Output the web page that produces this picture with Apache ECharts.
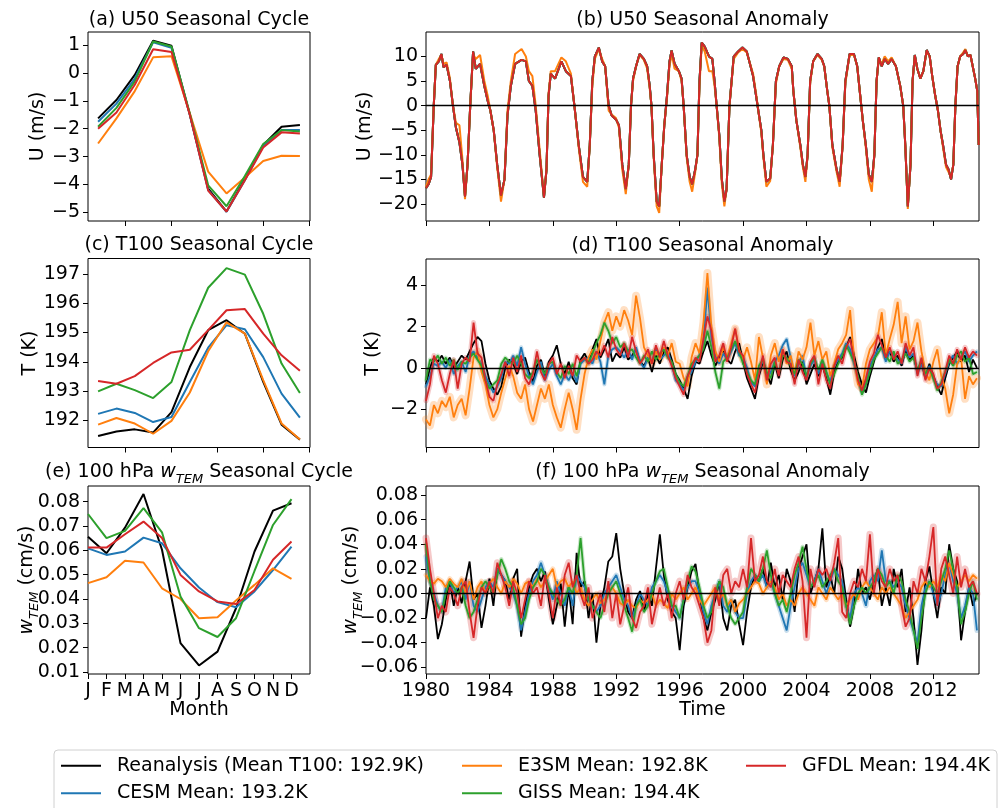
<!DOCTYPE html>
<html>
<head>
<meta charset="utf-8">
<script src="https://cdn.jsdelivr.net/npm/echarts@6/dist/echarts.min.js"></script>
<style>
html, body { margin: 0; padding: 0; background: #fff; }
#chart { width: 1003px; height: 808px; }
</style>
</head>
<body>
<div id="chart"></div>
<script>
// ---- data ----
const months = ['J', 'F', 'M', 'A', 'M', 'J', 'J', 'A', 'S', 'O', 'N', 'D'];
const monthNum = [1, 2, 3, 4, 5, 6, 7, 8, 9, 10, 11, 12];

// (a) U50 seasonal cycle, m/s
const u50CycRean = [-1.63, -0.97, -0.07, 1.16, 0.98, -1.5, -4.15, -4.97, -3.8, -2.58, -1.93, -1.87];
const u50CycCesm = [-1.75, -1.1, -0.2, 1.1, 0.9, -1.5, -4.2, -4.98, -3.85, -2.62, -2.05, -2.05];
const u50CycE3sm = [-2.53, -1.63, -0.65, 0.56, 0.6, -1.45, -3.54, -4.32, -3.75, -3.16, -2.97, -2.98];
const u50CycGiss = [-1.93, -1.25, -0.3, 1.13, 0.95, -1.45, -4.03, -4.78, -3.7, -2.55, -2.05, -2.1];
const u50CycGfdl = [-2.0, -1.42, -0.42, 0.85, 0.75, -1.5, -4.22, -4.97, -3.85, -2.67, -2.13, -2.17];

// (c) T100 seasonal cycle, K
const t100CycRean = [191.46, 191.62, 191.69, 191.58, 192.28, 193.82, 195.08, 195.42, 194.96, 193.31, 191.85, 191.34];
const t100CycCesm = [192.22, 192.4, 192.25, 191.94, 192.11, 193.31, 194.48, 195.25, 195.11, 194.16, 192.91, 192.09];
const t100CycE3sm = [191.85, 192.08, 191.89, 191.54, 191.98, 192.95, 194.36, 195.35, 194.96, 193.37, 191.89, 191.34];
const t100CycGiss = [192.99, 193.25, 193.03, 192.76, 193.31, 195.08, 196.53, 197.2, 196.98, 195.64, 193.94, 192.93];
const t100CycGfdl = [193.34, 193.25, 193.51, 193.96, 194.32, 194.41, 195.08, 195.76, 195.8, 194.96, 194.22, 193.69];

// (e) 100 hPa w_TEM seasonal cycle, cm/s
const wCycRean = [0.0656, 0.0588, 0.0693, 0.0831, 0.0602, 0.0219, 0.0127, 0.0184, 0.0362, 0.0595, 0.0763, 0.0793];
const wCycCesm = [0.0608, 0.0581, 0.0595, 0.0652, 0.0629, 0.0526, 0.0447, 0.0387, 0.0366, 0.0431, 0.0519, 0.0615];
const wCycE3sm = [0.0465, 0.0489, 0.0557, 0.055, 0.0444, 0.04, 0.0321, 0.0325, 0.0394, 0.0458, 0.0526, 0.0483];
const wCycGiss = [0.0749, 0.065, 0.068, 0.0773, 0.0674, 0.041, 0.028, 0.0244, 0.0321, 0.0515, 0.0704, 0.081];
const wCycGfdl = [0.0611, 0.0611, 0.0666, 0.0718, 0.065, 0.0499, 0.0431, 0.039, 0.0379, 0.0437, 0.0561, 0.0636];

// (b) U50 seasonal anomaly, [year, m/s]; CESM, GISS and GFDL lie on the reanalysis curve
const u50AnomRean = [
  [1980.00,-16.8],[1980.16,-16],[1980.32,-14.5],[1980.49,0],[1980.62,8.3],[1980.81,9],[1980.97,10.5],[1981.11,7.8],[1981.30,8.3],[1981.51,5],
  [1981.70,0],[1981.89,-4.5],[1982.11,-7.5],[1982.30,-12],[1982.46,-18.5],[1982.62,-12],[1982.79,0],[1982.97,11],[1983.14,7.5],[1983.41,8.5],
  [1983.68,4],[1983.89,1],[1984.06,-1],[1984.27,-5],[1984.49,-12],[1984.73,-18.3],[1984.95,-15],[1985.14,-2],[1985.35,4],[1985.62,8.5],
  [1986.03,9.3],[1986.30,9],[1986.49,5],[1986.71,4],[1986.92,-1],[1987.17,-10],[1987.44,-18.7],[1987.60,-13],[1987.73,2],[1987.87,6.5],
  [1988.14,5.5],[1988.54,9],[1988.82,7],[1989.14,6],[1989.36,0],[1989.63,-8],[1989.90,-14.5],[1990.17,-15.5],[1990.33,-8],[1990.49,5],
  [1990.65,10],[1990.90,11.8],[1991.11,9],[1991.30,8],[1991.52,0],[1991.71,-2],[1991.98,-2.8],[1992.17,-4],[1992.38,-12],[1992.60,-17],
  [1992.79,-12],[1992.93,0],[1993.06,5.5],[1993.25,8],[1993.47,10.5],[1993.74,9.5],[1993.95,8],[1994.11,4],[1994.22,0],[1994.36,-10],
  [1994.55,-19.5],[1994.71,-20.5],[1994.87,-12],[1995.03,-4],[1995.20,2],[1995.36,9],[1995.49,11.2],[1995.68,8.5],[1995.95,7],[1996.12,5.5],
  [1996.25,0],[1996.44,-10],[1996.63,-14.5],[1996.79,-16],[1996.98,-13],[1997.12,-10],[1997.25,5],[1997.39,12.8],[1997.58,12],[1997.85,10],
  [1998.06,9.5],[1998.20,5],[1998.33,0],[1998.50,-6],[1998.66,-15],[1998.82,-19.5],[1998.96,-17],[1999.14,0],[1999.41,10],[1999.69,11],
  [1999.96,11.8],[2000.23,11],[2000.63,6],[2000.82,2],[2000.96,-1],[2001.15,-5],[2001.28,-10],[2001.47,-15.5],[2001.71,-14.8],[2001.88,-8],
  [2002.07,5],[2002.28,8],[2002.55,9.8],[2002.82,9.5],[2003.07,8],[2003.17,3],[2003.36,-3],[2003.61,-8],[2003.77,-12],[2003.93,-14.5],
  [2004.07,-10],[2004.23,5],[2004.42,9],[2004.69,10.5],[2004.96,9.5],[2005.12,8],[2005.31,3],[2005.44,0],[2005.63,-8],[2005.90,-13],
  [2006.09,-15.5],[2006.28,-8],[2006.45,5],[2006.72,10.5],[2006.99,10.5],[2007.20,8],[2007.39,2],[2007.55,-3],[2007.74,-8],[2007.93,-14],
  [2008.12,-15.5],[2008.28,-10],[2008.42,5],[2008.56,9.8],[2008.74,8],[2008.93,9.5],[2009.15,8.5],[2009.37,9.5],[2009.64,8],[2009.91,4],
  [2010.10,0],[2010.23,-8],[2010.39,-20.5],[2010.56,-12],[2010.69,5],[2010.83,10.3],[2010.99,7.5],[2011.18,5.5],[2011.37,7],[2011.58,11.3],
  [2011.77,10],[2011.93,6],[2012.12,2],[2012.29,-1],[2012.45,-5],[2012.61,-8],[2012.80,-12],[2012.96,-13],[2013.12,-15],[2013.26,-12],
  [2013.39,0],[2013.53,8],[2013.69,10],[2013.88,10.5],[2014.02,11.3],[2014.18,10],[2014.34,10.3],[2014.64,5.5],[2014.77,3],[2014.86,-8]
];
const u50AnomE3sm = [
  [1980.00,-16.5],[1980.16,-15],[1980.32,-14],[1980.49,0],[1980.62,8.3],[1980.81,9.5],[1980.97,10.3],[1981.11,8.5],[1981.30,8.8],[1981.51,5.5],
  [1981.70,0],[1981.89,-3.5],[1982.11,-4],[1982.30,-11],[1982.46,-19],[1982.62,-12],[1982.79,0],[1982.97,10.5],[1983.14,9.5],[1983.41,10.3],
  [1983.68,5],[1983.89,2],[1984.06,-1],[1984.27,-5],[1984.49,-12.5],[1984.73,-19.5],[1984.95,-15],[1985.14,-1],[1985.35,5],[1985.62,10.5],
  [1986.03,11.5],[1986.30,10],[1986.49,7],[1986.71,6],[1986.92,0],[1987.17,-9],[1987.44,-18.5],[1987.60,-13],[1987.73,2.5],[1987.87,7],
  [1988.14,7],[1988.54,9.8],[1988.82,9],[1989.14,6.5],[1989.36,0],[1989.63,-8.5],[1989.90,-15.5],[1990.17,-16.5],[1990.33,-8],[1990.49,4],
  [1990.65,9.5],[1990.90,11.5],[1991.11,9.5],[1991.30,8],[1991.52,-1],[1991.71,-1.8],[1991.98,-2.5],[1992.17,-4.5],[1992.38,-13],[1992.60,-18],
  [1992.79,-12],[1992.93,0],[1993.06,5],[1993.25,8],[1993.47,10.3],[1993.74,9.3],[1993.95,7.5],[1994.11,3.5],[1994.22,0],[1994.36,-10.5],
  [1994.55,-20.5],[1994.71,-21.8],[1994.87,-12],[1995.03,-4],[1995.20,1.5],[1995.36,8],[1995.49,10.5],[1995.68,7.5],[1995.95,7],[1996.12,5],
  [1996.25,0],[1996.44,-10.5],[1996.63,-15.5],[1996.79,-17.5],[1996.98,-13.5],[1997.12,-10],[1997.25,4],[1997.39,12.3],[1997.58,11],[1997.85,7],
  [1998.06,7],[1998.20,4],[1998.33,0],[1998.50,-6.5],[1998.66,-16],[1998.82,-20.5],[1998.96,-17],[1999.14,0],[1999.41,9.5],[1999.69,10.8],
  [1999.96,11.5],[2000.23,10.8],[2000.63,6.5],[2000.82,2.5],[2000.96,-1],[2001.15,-5.5],[2001.28,-10.5],[2001.47,-16.5],[2001.71,-15.3],[2001.88,-8],
  [2002.07,4.5],[2002.28,8],[2002.55,9.5],[2002.82,9.3],[2003.07,7.5],[2003.17,3],[2003.36,-3],[2003.61,-8.5],[2003.77,-12.5],[2003.93,-15.5],
  [2004.07,-10],[2004.23,4.5],[2004.42,9],[2004.69,10.3],[2004.96,9.3],[2005.12,8],[2005.31,3],[2005.44,0],[2005.63,-8.5],[2005.90,-13.5],
  [2006.09,-16.5],[2006.28,-8],[2006.45,4.5],[2006.72,10.3],[2006.99,10.3],[2007.20,8],[2007.39,2],[2007.55,-3],[2007.74,-8.5],[2007.93,-15],
  [2008.12,-17.5],[2008.28,-10],[2008.42,5],[2008.56,9.5],[2008.74,8.5],[2008.93,10],[2009.15,9],[2009.37,9.8],[2009.64,8],[2009.91,4],
  [2010.10,0],[2010.23,-8],[2010.39,-21],[2010.56,-12],[2010.69,5],[2010.83,10],[2010.99,7.5],[2011.18,5.5],[2011.37,7],[2011.58,11],
  [2011.77,10],[2011.93,6],[2012.12,2],[2012.29,-1],[2012.45,-5],[2012.61,-8.5],[2012.80,-12.5],[2012.96,-13.5],[2013.12,-14.5],[2013.26,-12],
  [2013.39,0],[2013.53,8],[2013.69,10],[2013.88,10.8],[2014.02,11.5],[2014.18,10],[2014.34,10.3],[2014.64,5.5],[2014.77,3],[2014.86,-8]
];

// (d) T100 seasonal anomaly, K, one value per quarter 1980..2014
const t100AnomRean = [
  -0.8,0.0,0.5,0.3, 0.6,0.2,0.5,0.0,  0.3,0.6,0.4,0.8, 1.2,1.5,1.3,0.2,
  -0.6,-1.0,-1.3,-0.9, 0.0,0.4,0.2,-0.3,  0.3,0.5,-0.2,-0.7, 0.1,0.4,-0.4,0.3,
  0.6,1.1,0.2,-0.3, 0.3,-0.5,-0.8,0.4,  0.7,0.3,0.9,1.4, 0.5,0.9,1.4,0.3,
  0.7,0.5,1.0,0.4, 0.6,0.9,0.3,0.1,  0.5,-0.2,0.6,0.2, 0.8,1.0,0.4,-0.3,
  -0.6,-1.0,-1.5,-0.4, 0.3,0.2,0.8,1.3,  0.6,0.1,0.5,0.9, 0.4,0.2,0.8,1.2,
  0.3,-0.5,-1.0,-1.5, -0.4,0.3,-0.3,-0.8,  0.2,-0.5,0.4,0.8, -0.1,-0.6,-0.2,0.3,
  -0.8,-0.3,0.2,-0.4, 0.1,-0.5,-1.3,-0.2,  0.3,0.5,1.0,1.5, 0.6,-0.2,-0.8,-1.2,
  -0.4,0.3,1.0,1.4, 0.5,0.8,0.3,0.6,  0.1,0.9,0.4,0.6, -0.2,0.3,-0.5,0.2,
  -0.4,-0.9,-1.3,-0.5, 0.2,0.5,0.8,0.3,  0.6,-0.2,0.4,0.0
];
const t100AnomCesm = [
  -0.9,-0.4,0.2,0.1, 0.3,0.0,0.4,-0.3,  0.1,0.3,-0.2,0.6, 0.8,0.5,0.2,-0.4,
  -0.8,-1.2,-0.9,-0.5, 0.3,0.2,0.6,0.1,  1.0,0.2,-0.4,-0.8, -0.2,0.3,-0.6,-0.1,
  0.2,-0.4,-0.8,-0.3, -0.6,-0.2,-0.7,0.2,  0.4,0.5,0.2,0.8, 0.3,-0.8,0.6,0.9,
  1.0,0.8,0.5,0.9, 0.4,1.0,0.3,0.0,  0.5,0.3,0.9,0.4, 0.6,0.8,0.2,-0.6,
  -0.8,-1.1,-0.5,-0.2, 0.3,0.6,1.2,3.9,  1.5,0.6,0.2,0.7, 0.4,0.8,1.2,0.6,
  0.5,0.0,-0.7,-0.9, -0.2,0.4,-0.5,-0.2,  0.3,0.6,1.1,1.4, 0.5,-0.4,0.2,0.6,
  -0.5,0.1,0.4,-0.3, 0.3,-0.2,-0.7,0.1,  0.4,0.7,1.2,0.9, 0.2,-0.5,-1.2,-0.7,
  0.1,0.5,0.9,1.0, 0.3,0.8,0.6,0.4,  0.2,1.0,0.5,0.7, -0.3,0.2,-0.4,0.1,
  -0.5,-0.8,-0.9,-0.3, 0.3,0.6,0.2,0.5,  0.8,0.3,0.6,0.8
];
const t100AnomE3sm = [
  -2.5,-2.8,-1.8,-2.2, -1.6,-1.9,-1.4,-2.4,  -1.8,-1.5,-2.3,-1.0, 0.5,0.8,-0.2,-0.8,
  -1.8,-2.4,-2.0,-1.2, -0.5,0.1,-0.4,-1.2,  -1.5,-0.8,-2.0,-2.6, -1.8,-1.0,-1.5,-0.8,
  -1.8,-2.4,-2.9,-2.0, -1.2,-2.0,-3.0,-1.5,  -0.3,0.5,0.9,0.4, 1.3,2.2,2.7,1.8,
  2.5,2.0,2.8,2.3, 1.6,3.5,2.4,1.0,  0.6,0.2,0.8,0.4, 1.0,0.6,1.2,0.3,
  0.2,-0.5,-0.9,0.5, 1.2,0.7,2.2,4.6,  2.0,0.8,0.3,1.0, 0.5,1.2,1.9,0.9,
  0.4,1.0,0.3,-0.6, 1.5,0.5,-0.8,0.6,  1.2,0.3,0.9,0.2, 0.6,-0.3,0.8,0.4,
  1.0,2.2,0.6,1.3, 0.4,0.8,-0.4,0.2,  0.9,1.2,1.6,2.8, 0.4,-0.8,-1.0,0.2,
  0.9,1.2,1.5,2.7, 0.6,1.4,2.1,3.2,  1.2,2.5,0.9,1.3, 2.2,0.8,-0.2,-0.6,
  0.3,0.9,-0.4,-1.0, -2.2,-1.3,0.2,0.5,  -1.5,-0.4,-0.8,-0.5
];
const t100AnomGiss = [
  -0.6,0.4,0.3,0.6, 0.2,0.5,0.1,0.4,  -0.1,0.3,0.2,0.5, 0.7,0.4,0.1,-0.6,
  -1.0,-0.8,-0.6,0.2, 0.5,0.3,0.2,0.6,  0.2,-0.3,-0.5,-0.2, 0.4,0.0,-0.3,0.2,
  0.3,-0.2,-0.5,0.1, -0.3,0.2,-0.4,0.3,  0.5,0.2,0.7,1.2, 1.6,2.2,1.8,1.2,
  1.5,1.0,1.2,0.8, 0.9,0.5,0.2,0.6,  0.3,0.8,0.4,0.7, 0.9,0.5,0.3,-0.3,
  -0.7,-0.9,-0.4,0.2, 0.4,0.6,0.9,1.8,  1.0,-0.2,-1.0,0.3, 0.5,0.9,1.3,0.8,
  0.2,-0.2,-0.6,-0.8, 0.1,0.4,-0.2,-0.5,  0.3,-0.3,0.6,0.5, 0.1,-0.3,0.4,0.2,
  -0.4,0.2,0.5,-0.1, 0.4,-0.2,-0.8,-0.3,  0.2,0.6,1.1,0.7, 0.3,-0.4,-1.3,-0.8,
  -0.2,0.4,0.7,1.0, 0.6,0.3,0.8,0.2,  0.4,0.7,0.3,0.5, -0.1,0.4,-0.3,0.0,
  -0.5,-1.1,-0.7,-0.2, 0.4,0.1,0.6,0.8,  0.3,0.5,-0.3,-0.2
];
const t100AnomGfdl = [
  -1.6,-0.8,0.6,0.2, -0.6,-1.2,-0.3,0.4,  -1.0,0.2,0.5,0.3, 2.2,0.7,0.5,-0.6,
  -1.4,-1.6,-0.8,-0.3, 0.3,-0.4,0.5,-0.2,  0.6,-0.5,-0.8,-0.3, 0.8,-0.2,-0.6,0.2,
  0.5,-0.3,0.2,-0.5, 0.1,-0.4,0.6,0.3,  0.5,0.2,0.4,0.8, 0.6,1.1,0.5,1.5,
  0.9,0.6,1.2,0.5, 1.5,0.8,0.2,0.5,  0.9,0.2,1.1,0.5, 1.3,0.6,0.1,-0.5,
  -0.9,-1.3,-0.4,0.0, 0.5,0.3,1.4,2.5,  1.8,0.3,0.6,1.2, 0.3,1.0,1.9,0.8,
  0.6,-0.3,-0.8,-1.2, -0.3,0.6,-0.6,0.2,  0.5,-0.4,0.9,0.3, 0.2,-0.8,0.4,-0.2,
  -0.6,0.3,0.6,-0.8, 0.2,-0.6,-1.0,0.1,  0.6,0.2,1.0,1.4, 0.4,-0.6,-1.1,-0.5,
  0.3,0.7,1.6,1.1, 0.5,1.0,0.4,0.8,  0.2,1.2,0.6,1.0, -0.4,0.5,-0.6,0.0,
  -0.3,-1.0,-0.8,-0.2, 0.6,0.2,0.9,0.4,  1.0,0.5,0.8,0.6
];

// (f) 100 hPa w_TEM seasonal anomaly, cm/s, one value per quarter 1980..2014
const wAnomRean = [
  -0.02,0.005,-0.01,-0.037, -0.025,-0.005,0.01,-0.01,  0.005,-0.008,0.01,0.026, -0.005,0.0,-0.028,-0.01,
  0.012,-0.01,0.02,0.015, 0.01,-0.005,0.012,0.02,  -0.035,-0.01,0.005,0.015, 0.02,0.01,0.018,-0.005,
  -0.025,-0.01,0.008,-0.027, 0.005,-0.025,0.033,0.005,  0.01,-0.02,0.0,-0.04, -0.01,0.005,0.026,0.03,
  0.049,0.02,0.0,-0.015, -0.02,-0.005,0.002,-0.015,  0.0,-0.01,0.02,0.048, 0.015,-0.005,-0.015,-0.02,
  -0.046,-0.01,0.005,0.018, 0.024,0.0,-0.02,-0.03,  -0.015,-0.005,0.01,-0.02, -0.03,-0.01,-0.005,-0.025,
  -0.042,-0.015,0.005,0.015, 0.01,0.02,0.005,0.025,  0.005,0.015,-0.005,0.02, 0.01,-0.015,0.02,0.03,
  0.04,0.0,0.01,0.02, 0.053,0.005,0.015,0.0,  0.03,0.02,-0.005,-0.027, -0.01,0.02,0.0,0.005,
  -0.005,0.01,0.02,-0.01, 0.005,-0.01,0.02,0.005,  0.02,-0.015,0.005,-0.02, -0.058,-0.03,0.01,0.022,
  0.0,-0.02,0.005,0.0, 0.04,0.02,0.01,-0.038,  -0.015,0.005,-0.01,0.0
];
const wAnomCesm = [
  0.03,0.01,0.0,-0.01, -0.015,0.005,0.01,0.0,  0.005,0.01,-0.005,0.01, -0.01,-0.015,-0.005,0.005,
  0.01,0.005,0.02,0.015, 0.01,0.005,0.0,-0.01,  -0.03,-0.015,0.0,0.01, 0.015,0.025,0.015,0.005,
  -0.005,0.01,0.0,-0.01, 0.005,-0.01,0.015,0.01,  0.005,-0.005,-0.01,-0.015, -0.01,0.0,0.005,0.01,
  0.015,0.005,-0.005,-0.01, -0.02,-0.01,0.0,-0.005,  -0.01,0.005,0.01,0.015, 0.01,0.0,-0.01,-0.015,
  -0.02,-0.005,0.005,0.01, 0.01,0.0,-0.015,-0.025,  -0.01,0.0,0.01,-0.01, -0.015,-0.005,-0.015,-0.02,
  -0.02,0.0,0.01,0.015, 0.01,0.015,0.005,0.01,  0.0,-0.01,-0.02,-0.03, -0.01,0.005,0.02,0.025,
  0.015,0.005,0.01,0.02, 0.01,0.0,0.01,0.02,  0.015,0.01,-0.01,-0.02, 0.0,0.005,0.0,-0.01,
  0.01,0.015,0.01,0.035, 0.01,0.01,0.005,0.01,  0.005,-0.01,-0.02,-0.03, -0.04,-0.01,0.005,0.01,
  0.0,-0.01,0.0,0.015, 0.025,0.01,0.0,-0.02,  -0.01,0.005,0.0,-0.03
];
const wAnomE3sm = [
  0.015,0.01,0.008,0.012, 0.01,0.005,0.012,0.008,  0.005,0.012,0.0,0.01, -0.005,0.005,0.01,0.0,
  0.008,0.012,0.005,0.0, 0.01,0.005,0.012,0.008,  0.0,0.008,0.01,0.005, 0.012,0.005,0.01,0.015,
  0.02,0.005,0.01,0.012, 0.005,0.01,0.0,0.005,  -0.005,-0.01,-0.005,0.0, -0.008,-0.005,0.0,0.005,
  0.0,-0.008,-0.01,-0.005, -0.01,-0.012,-0.005,-0.008,  -0.005,0.0,-0.01,-0.005, -0.008,-0.012,0.0,-0.005,
  0.0,0.005,-0.005,0.0, 0.005,-0.005,-0.01,-0.005,  0.0,0.005,-0.005,0.0, -0.01,-0.005,-0.015,-0.008,
  -0.005,0.0,0.005,0.01, 0.008,0.0,0.005,0.01,  0.005,-0.005,0.0,-0.01, -0.005,-0.01,0.0,0.005,
  0.0,-0.005,-0.01,0.005, 0.0,-0.005,0.005,0.0,  -0.005,0.0,-0.01,-0.005, 0.0,-0.005,0.005,0.01,
  0.005,0.0,-0.005,0.005, 0.0,0.005,0.0,-0.005,  -0.01,-0.02,-0.015,-0.01, -0.005,0.005,0.01,0.005,
  0.01,0.005,0.015,0.01, 0.025,0.015,0.005,0.01,  0.015,0.01,0.015,0.012
];
const wAnomGiss = [
  0.04,0.01,-0.005,-0.01, -0.015,0.0,0.01,0.005,  0.0,0.005,-0.01,-0.02, -0.015,-0.005,0.005,0.01,
  0.005,0.0,0.015,0.028, 0.02,0.01,0.005,-0.01,  -0.025,-0.02,-0.005,0.005, 0.01,0.02,0.015,0.005,
  0.0,-0.005,-0.01,-0.005, 0.005,0.0,0.015,0.045,  0.01,-0.005,-0.01,-0.015, -0.02,-0.01,0.0,0.005,
  0.01,0.0,-0.01,-0.02, -0.031,-0.01,-0.005,-0.015,  -0.01,0.0,0.01,0.018, 0.02,0.005,-0.01,-0.01,
  -0.02,-0.005,0.01,0.022, 0.018,0.005,-0.01,-0.02,  -0.015,0.0,0.01,0.005, -0.01,-0.02,-0.025,-0.02,
  -0.015,0.005,0.02,0.015, 0.01,0.02,0.035,0.015,  0.0,-0.01,-0.005,-0.015, 0.0,0.015,0.025,0.038,
  0.02,0.005,0.01,0.015, 0.005,0.01,0.015,0.02,  0.01,0.005,-0.01,-0.025, -0.01,0.0,0.005,0.0,
  0.005,0.01,0.02,0.015, 0.005,0.01,0.0,0.015,  0.01,-0.005,-0.015,-0.03, -0.045,-0.02,0.0,0.01,
  0.005,0.0,0.01,0.02, 0.035,0.02,0.005,-0.025,  -0.015,0.0,0.01,-0.005
];
const wAnomGfdl = [
  0.045,0.02,0.0,-0.02, -0.01,-0.015,0.005,0.0,  -0.01,0.005,0.01,-0.015, -0.036,-0.01,0.005,0.0,
  0.01,0.0,0.025,0.015, 0.005,-0.01,0.01,0.0,  -0.02,-0.005,0.01,0.0, 0.005,-0.01,0.015,0.0,
  -0.02,0.005,-0.01,0.015, 0.025,0.005,0.015,0.0,  -0.01,0.005,-0.02,-0.01, 0.0,-0.015,0.01,-0.02,
  0.0,-0.025,-0.01,0.005, -0.02,-0.028,-0.015,-0.01,  0.005,-0.025,-0.01,0.005, -0.01,0.0,-0.02,0.0,
  0.01,-0.005,0.015,0.005, 0.0,-0.01,-0.02,-0.04,  -0.03,0.005,-0.01,0.015, 0.02,0.0,0.01,0.005,
  0.02,0.005,0.045,0.01, 0.015,0.03,0.01,0.005,  0.02,0.0,0.015,0.01, 0.005,0.02,0.03,0.01,
  -0.036,0.02,0.005,0.02, 0.015,0.02,0.01,0.025,  0.045,-0.015,-0.02,0.0, 0.01,0.005,0.02,0.01,
  0.048,0.0,0.02,0.01, 0.005,0.02,0.01,0.015,  -0.01,-0.027,-0.02,0.01, 0.0,0.02,0.01,0.03,
  0.054,-0.01,0.02,0.03, 0.015,0.0,0.03,0.005,  0.02,0.005,0.01,0.0
];

// ---- chart ----
const FONT = 'DejaVu Sans';
const C = { rean: '#000000', cesm: '#1f77b4', e3sm: '#ff7f0e', giss: '#2ca02c', gfdl: '#d62728' };
const NAMES = {
  rean: 'Reanalysis (Mean T100: 192.9K)',
  cesm: 'CESM Mean: 193.2K',
  e3sm: 'E3SM Mean: 192.8K',
  giss: 'GISS Mean: 194.4K',
  gfdl: 'GFDL Mean: 194.4K'
};
const quarters = t100AnomRean.map((v, i) => 1980 + i / 4);
const yearTicks = [1980, 1984, 1988, 1992, 1996, 2000, 2004, 2008, 2012];

const byMonth = arr => monthNum.map((m, i) => [m, arr[i]]);
const byMonthIdx = arr => arr.map((v, i) => [i, v]);
const byQuarter = arr => quarters.map((t, i) => [t, arr[i]]);

const minusFmt = dec => v => (v < 0 ? '\u2212' : '') + Math.abs(v).toFixed(dec);

const wRich = {
  w: { fontFamily: FONT, fontSize: 19, fontStyle: 'italic', color: '#000', lineHeight: 28 },
  s: { fontFamily: FONT, fontSize: 13, fontStyle: 'italic', color: '#000', verticalAlign: 'bottom' },
  t: { fontFamily: FONT, fontSize: 19, color: '#000', lineHeight: 28 }
};

const grids = [
  { left: 88, top: 32, width: 222, height: 189 },
  { left: 426, top: 32, width: 553, height: 189 },
  { left: 88, top: 258.5, width: 222, height: 189 },
  { left: 426, top: 259, width: 553, height: 188.5 },
  { left: 88, top: 486, width: 222, height: 188 },
  { left: 426, top: 486, width: 553, height: 188 }
].map(g => Object.assign({ show: true, borderColor: '#000', borderWidth: 1, backgroundColor: 'transparent', containLabel: false, outerBoundsMode: 'none' }, g));

function xAx(gi, min, max, ticks, label) {
  return {
    type: 'value', gridIndex: gi, min: min, max: max,
    axisLine: { show: false, onZero: false },
    splitLine: { show: false },
    axisTick: { show: true, length: 5, customValues: ticks, lineStyle: { color: '#000', width: 1 } },
    axisLabel: label ? Object.assign({ show: true, customValues: ticks, fontFamily: FONT, fontSize: 19, color: '#000', margin: 8 }, label) : { show: false, customValues: ticks },
    nameMoveOverlap: false
  };
}

function yAx(gi, min, max, ticks, dec, name, gap, rich) {
  return {
    type: 'value', gridIndex: gi, min: min, max: max,
    axisLine: { show: false, onZero: false },
    splitLine: { show: false },
    axisTick: { show: true, length: 5, customValues: ticks, lineStyle: { color: '#000', width: 1 } },
    axisLabel: { customValues: ticks, formatter: minusFmt(dec), fontFamily: FONT, fontSize: 19, color: '#000', margin: 8 },
    name: name, nameLocation: 'middle', nameGap: gap, nameRotate: 90, nameMoveOverlap: false,
    nameTextStyle: { fontFamily: FONT, fontSize: 19, color: '#000', rich: rich }
  };
}

function ln(key, gi, data, width) {
  return {
    type: 'line', name: NAMES[key], xAxisIndex: gi, yAxisIndex: gi, data: data,
    symbol: 'none', showSymbol: false, silent: true, animation: false, z: 3,
    lineStyle: { color: C[key], width: width }, itemStyle: { color: C[key] }
  };
}

// ensemble spread shown as a translucent wide stroke under each model line
function spread(key, gi, data, width) {
  return {
    type: 'line', name: key + ' spread', xAxisIndex: gi, yAxisIndex: gi, data: data,
    symbol: 'none', showSymbol: false, silent: true, animation: false, z: 2,
    lineStyle: { color: C[key], width: width, opacity: 0.25, join: 'round', cap: 'round' }
  };
}

const zeroLine = {
  silent: true, symbol: ['none', 'none'], animation: false, label: { show: false },
  lineStyle: { color: '#000', width: 1.3, type: 'solid' },
  data: [{ yAxis: 0 }]
};

function withZero(s) { s.markLine = zeroLine; s.z = 4; return s; }

const series = [
  // (a)
  ln('rean', 0, byMonth(u50CycRean), 2), ln('cesm', 0, byMonth(u50CycCesm), 2),
  ln('e3sm', 0, byMonth(u50CycE3sm), 2), ln('giss', 0, byMonth(u50CycGiss), 2),
  ln('gfdl', 0, byMonth(u50CycGfdl), 2),
  // (b)
  ln('rean', 1, u50AnomRean, 2), ln('cesm', 1, u50AnomRean, 2),
  ln('e3sm', 1, u50AnomE3sm, 2), ln('giss', 1, u50AnomRean, 2),
  withZero(ln('gfdl', 1, u50AnomRean, 2)),
  // (c)
  ln('rean', 2, byMonth(t100CycRean), 2), ln('cesm', 2, byMonth(t100CycCesm), 2),
  ln('e3sm', 2, byMonth(t100CycE3sm), 2), ln('giss', 2, byMonth(t100CycGiss), 2),
  ln('gfdl', 2, byMonth(t100CycGfdl), 2),
  // (d)
  spread('cesm', 3, byQuarter(t100AnomCesm), 4), spread('e3sm', 3, byQuarter(t100AnomE3sm), 8),
  spread('giss', 3, byQuarter(t100AnomGiss), 4), spread('gfdl', 3, byQuarter(t100AnomGfdl), 5),
  ln('rean', 3, byQuarter(t100AnomRean), 1.8), ln('cesm', 3, byQuarter(t100AnomCesm), 1.8),
  ln('e3sm', 3, byQuarter(t100AnomE3sm), 1.8), ln('giss', 3, byQuarter(t100AnomGiss), 1.8),
  withZero(ln('gfdl', 3, byQuarter(t100AnomGfdl), 1.8)),
  // (e)
  ln('rean', 4, byMonthIdx(wCycRean), 2), ln('cesm', 4, byMonthIdx(wCycCesm), 2),
  ln('e3sm', 4, byMonthIdx(wCycE3sm), 2), ln('giss', 4, byMonthIdx(wCycGiss), 2),
  ln('gfdl', 4, byMonthIdx(wCycGfdl), 2),
  // (f)
  spread('cesm', 5, byQuarter(wAnomCesm), 5), spread('e3sm', 5, byQuarter(wAnomE3sm), 5),
  spread('giss', 5, byQuarter(wAnomGiss), 4), spread('gfdl', 5, byQuarter(wAnomGfdl), 7),
  ln('rean', 5, byQuarter(wAnomRean), 1.8), ln('cesm', 5, byQuarter(wAnomCesm), 1.8),
  ln('e3sm', 5, byQuarter(wAnomE3sm), 1.8), ln('giss', 5, byQuarter(wAnomGiss), 1.8),
  withZero(ln('gfdl', 5, byQuarter(wAnomGfdl), 1.8))
];

const cycTicks = [2.5, 5, 7.5, 10, 12.5];
const xAxes = [
  xAx(0, 0.45, 12.55, cycTicks, null),
  xAx(1, 1980, 2014.88, yearTicks, null),
  xAx(2, 0.45, 12.55, cycTicks, null),
  xAx(3, 1980, 2014.88, yearTicks, null),
  Object.assign(xAx(4, 0, 12, [0, 1, 2, 3, 4, 5, 6, 7, 8, 9, 10, 11], { formatter: v => months[v] }),
    { name: 'Month', nameLocation: 'middle', nameGap: 27, nameTextStyle: { fontFamily: FONT, fontSize: 19, color: '#000' } }),
  Object.assign(xAx(5, 1980, 2014.88, yearTicks, { formatter: v => String(v) }),
    { name: 'Time', nameLocation: 'middle', nameGap: 27, nameTextStyle: { fontFamily: FONT, fontSize: 19, color: '#000' } })
];

const yAxes = [
  yAx(0, -5.31, 1.47, [-5, -4, -3, -2, -1, 0, 1], 0, 'U (m/s)', 40),
  yAx(1, -23.46, 14.97, [-20, -15, -10, -5, 0, 5, 10], 0, 'U (m/s)', 51),
  yAx(2, 191.07, 197.53, [192, 193, 194, 195, 196, 197], 0, 'T (K)', 48),
  yAx(3, -3.86, 5.28, [-2, 0, 2, 4], 0, 'T (K)', 43),
  yAx(4, 0.0092, 0.0864, [0.01, 0.02, 0.03, 0.04, 0.05, 0.06, 0.07, 0.08], 2, '{w|w}{s|TEM} {t|(cm/s)}', 47, wRich),
  yAx(5, -0.0654, 0.0873, [-0.06, -0.04, -0.02, 0, 0.02, 0.04, 0.06, 0.08], 2, '{w|w}{s|TEM} {t|(cm/s)}', 61, wRich)
];

function title(x, y, text) {
  return {
    type: 'text', x: x, y: y, silent: true,
    style: {
      text: text, rich: wRich, fontFamily: FONT, fontSize: 19, fill: '#000',
      align: 'center', verticalAlign: 'middle', textAlign: 'center', textVerticalAlign: 'middle'
    }
  };
}

const legendCommon = {
  orient: 'vertical', icon: 'rect', itemWidth: 40, itemHeight: 2, itemGap: 5.6,
  padding: 0, top: 754.7, selectedMode: false,
  textStyle: { fontFamily: FONT, fontSize: 19, color: '#000', lineHeight: 22, padding: [0, 0, 0, 11] }
};

const option = {
  backgroundColor: '#fff',
  animation: false,
  grid: grids,
  xAxis: xAxes,
  yAxis: yAxes,
  series: series,
  legend: [
    Object.assign({ left: 61, data: [NAMES.rean, NAMES.cesm] }, legendCommon),
    Object.assign({ left: 462, data: [NAMES.e3sm, NAMES.giss] }, legendCommon),
    Object.assign({ left: 746, data: [NAMES.gfdl] }, legendCommon)
  ],
  graphic: [
    title(199, 20, '(a) U50 Seasonal Cycle'),
    title(702.5, 20, '(b) U50 Seasonal Anomaly'),
    title(199, 245, '(c) T100 Seasonal Cycle'),
    title(702.5, 246, '(d) T100 Seasonal Anomaly'),
    title(199, 472, '(e) 100 hPa {w|w}{s|TEM} Seasonal Cycle'),
    title(702.5, 472, '(f) 100 hPa {w|w}{s|TEM} Seasonal Anomaly'),
    {
      type: 'rect', z: -1, silent: true,
      shape: { x: 54, y: 750, width: 943, height: 80, r: 4 },
      style: { fill: '#fff', stroke: '#d0d0d0', lineWidth: 1 }
    }
  ]
};

const chart = echarts.init(document.getElementById('chart'), null, { renderer: 'canvas' });
chart.setOption(option);
</script>
</body>
</html>
